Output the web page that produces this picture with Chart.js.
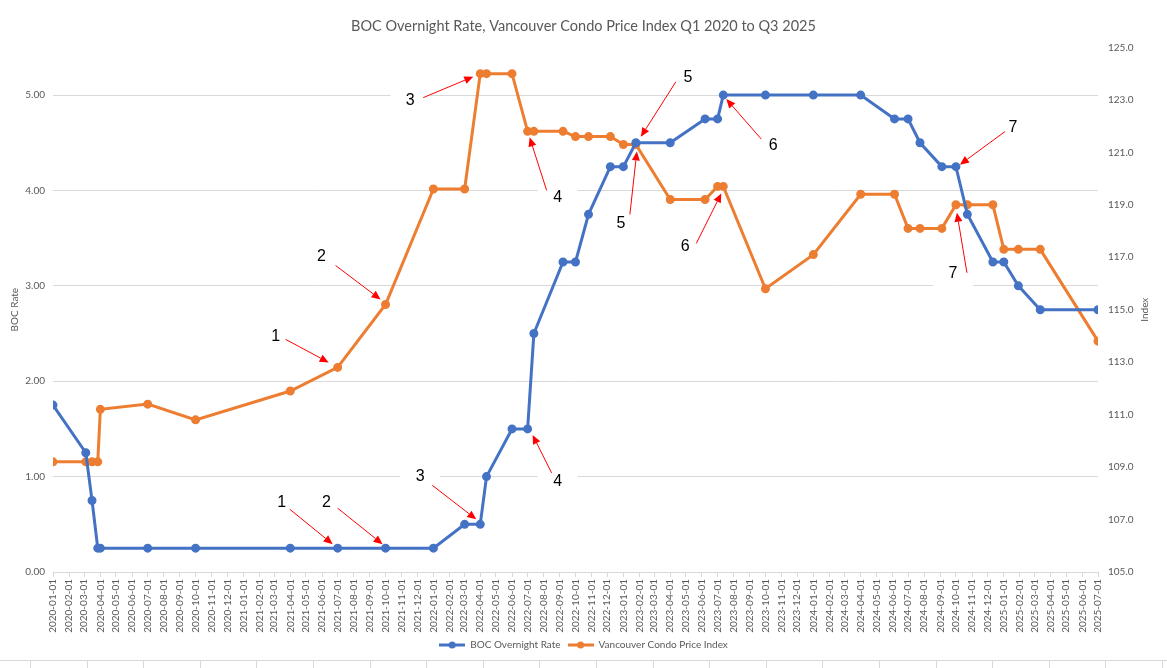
<!DOCTYPE html>
<html>
<head>
<meta charset="utf-8">
<script src="https://cdn.jsdelivr.net/npm/chart.js@4.4.1/dist/chart.umd.min.js"></script>
<style>
  html, body { margin: 0; padding: 0; background: #fff; }
  #wrap { position: relative; width: 1167px; height: 660px; }
  #sheet {
    width: 1167px; height: 7px; border-top: 1px solid #d9d9d9;
    background-image: repeating-linear-gradient(to right, #d9d9d9 0, #d9d9d9 1px, transparent 1px, transparent 56.6px);
    background-position: 30px 0;
  }
</style>
</head>
<body>
<div id="wrap"><canvas id="rateChart"></canvas></div>
<div id="sheet"></div>
<script>
// rate change / index dates shared by both series
const dates = [
  '2020-01-01', '2020-03-04', '2020-03-16', '2020-03-27', '2020-04-01', '2020-07-01', '2020-10-01',
  '2021-04-01', '2021-07-01', '2021-10-01', '2022-01-01', '2022-03-02', '2022-04-01', '2022-04-13',
  '2022-06-01', '2022-07-01', '2022-07-13', '2022-09-07', '2022-10-01', '2022-10-26', '2022-12-07',
  '2023-01-01', '2023-01-25', '2023-04-01', '2023-06-07', '2023-07-01', '2023-07-12', '2023-10-01',
  '2024-01-01', '2024-04-01', '2024-06-05', '2024-07-01', '2024-07-24', '2024-09-04', '2024-10-01',
  '2024-10-23', '2024-12-11', '2025-01-01', '2025-01-29', '2025-03-12', '2025-07-01'
];
const bocRate = [
  1.75, 1.25, 0.75, 0.25, 0.25, 0.25, 0.25,
  0.25, 0.25, 0.25, 0.25, 0.50, 0.50, 1.00,
  1.50, 1.50, 2.50, 3.25, 3.25, 3.75, 4.25,
  4.25, 4.50, 4.50, 4.75, 4.75, 5.00, 5.00,
  5.00, 5.00, 4.75, 4.75, 4.50, 4.25, 4.25,
  3.75, 3.25, 3.25, 3.00, 2.75, 2.75
];
const condoIndex = [
  109.2, 109.2, 109.2, 109.2, 111.2, 111.4, 110.8,
  111.9, 112.8, 115.2, 119.6, 119.6, 124.0, 124.0,
  124.0, 121.8, 121.8, 121.8, 121.6, 121.6, 121.6,
  121.3, 121.3, 119.2, 119.2, 119.7, 119.7, 115.8,
  117.1, 119.4, 119.4, 118.1, 118.1, 118.1, 119.0,
  119.0, 119.0, 117.3, 117.3, 117.3, 113.8
];

// month tick labels 2020-01-01 .. 2025-07-01
const monthLabels = [];
for (let y = 2020; y <= 2025; y++) {
  for (let m = 1; m <= 12; m++) {
    if (y === 2025 && m > 7) break;
    monthLabels.push(y + '-' + String(m).padStart(2, '0') + '-01');
  }
}

// numbered red arrows (offsets in px from the point they mark)
const arrowNotes = [
  { text: '1', series: 1, date: '2021-07-01', label: [-62, -31], tail: [-52, -28], tip: [-9, -5] },
  { text: '2', series: 1, date: '2021-10-01', label: [-64, -48], tail: [-50, -39], tip: [-5, -5] },
  { text: '3', series: 1, date: '2022-04-01', label: [-70, 27], tail: [-57, 24], tip: [-7, 3] },
  { text: '4', series: 1, date: '2022-07-01', label: [30, 66], tail: [19, 59], tip: [2, 6] },
  { text: '5', series: 1, date: '2023-01-25', label: [-15, 79], tail: [-6, 70], tip: [1, 7] },
  { text: '6', series: 1, date: '2023-07-12', label: [-38, 60], tail: [-27, 57], tip: [-2, 7] },
  { text: '7', series: 1, date: '2024-10-01', label: [-3, 69], tail: [11, 68], tip: [1, 8] },
  { text: '1', series: 0, date: '2021-07-01', label: [-56, -46], tail: [-48, -39], tip: [-5, -4] },
  { text: '2', series: 0, date: '2021-10-01', label: [-59, -46], tail: [-48, -40], tip: [-3, -4] },
  { text: '3', series: 0, date: '2022-04-01', label: [-60, -48], tail: [-48, -39], tip: [-4, -5] },
  { text: '4', series: 0, date: '2022-07-01', label: [30, 53], tail: [24, 44], tip: [5, 6] },
  { text: '5', series: 0, date: '2023-01-25', label: [52, -65], tail: [40, -61], tip: [5, -6] },
  { text: '6', series: 0, date: '2023-07-12', label: [50, 51], tail: [38, 44], tip: [3, 4] },
  { text: '7', series: 0, date: '2024-10-01', label: [57, -39], tail: [49, -35], tip: [4, -2] }
];

const BLUE = '#4472C4';
const ORANGE = '#ED7D31';
const GREY = '#595959';
const GRID = '#d9d9d9';

function dayOf(s) {
  const p = s.split('-').map(Number);
  return (Date.UTC(p[0], p[1] - 1, p[2]) - Date.UTC(2020, 0, 1)) / 86400000;
}

function legendIcon(color) {
  const c = document.createElement('canvas');
  c.width = 26; c.height = 8;
  const g = c.getContext('2d');
  g.strokeStyle = color; g.lineWidth = 3;
  g.beginPath(); g.moveTo(0, 4); g.lineTo(26, 4); g.stroke();
  g.fillStyle = color;
  g.beginPath(); g.arc(13, 4, 3.5, 0, Math.PI * 2); g.fill();
  return c;
}

const tickFont = { family: 'Lato, "Noto Sans", sans-serif', size: 10 };

const arrowPlugin = {
  id: 'arrowNotes',
  notePoint(chart, n) {
    const i = dates.indexOf(n.date);
    const x = chart.scales.x.getPixelForValue(dayOf(n.date));
    const y = n.series === 0 ? chart.scales.y.getPixelForValue(bocRate[i])
                             : chart.scales.y1.getPixelForValue(condoIndex[i]);
    return [x, y];
  },
  beforeDatasetsDraw(chart) {
    const ctx = chart.ctx;
    ctx.save();
    ctx.fillStyle = '#fff';
    arrowNotes.forEach(n => {
      const [px, py] = this.notePoint(chart, n);
      ctx.fillRect(px + n.label[0] - 20, py + n.label[1] - 14, 40, 28);
    });
    ctx.restore();
  },
  afterDatasetsDraw(chart) {
    const ctx = chart.ctx;
    ctx.save();
    arrowNotes.forEach(n => {
      const [px, py] = this.notePoint(chart, n);
      const tx = px + n.tail[0], ty = py + n.tail[1];
      const hx = px + n.tip[0], hy = py + n.tip[1];
      const ang = Math.atan2(hy - ty, hx - tx);
      const len = 9, half = 4;
      const bx = hx - len * Math.cos(ang), by = hy - len * Math.sin(ang);
      ctx.strokeStyle = '#ff0000';
      ctx.fillStyle = '#ff0000';
      ctx.lineWidth = 1;
      ctx.beginPath(); ctx.moveTo(tx, ty); ctx.lineTo(bx, by); ctx.stroke();
      ctx.beginPath();
      ctx.moveTo(hx, hy);
      ctx.lineTo(bx + half * Math.sin(ang), by - half * Math.cos(ang));
      ctx.lineTo(bx - half * Math.sin(ang), by + half * Math.cos(ang));
      ctx.closePath(); ctx.fill();

      ctx.fillStyle = '#000';
      ctx.font = '16px "Liberation Sans", Arial, sans-serif';
      ctx.textAlign = 'center';
      ctx.textBaseline = 'middle';
      ctx.fillText(n.text, px + n.label[0], py + n.label[1]);
    });
    ctx.restore();
  },
  afterDraw(chart) {
    // right axis title, reading bottom to top like Excel
    const a = chart.chartArea;
    const ctx = chart.ctx;
    ctx.save();
    ctx.translate(a.right + 47, (a.top + a.bottom) / 2);
    ctx.rotate(-Math.PI / 2);
    ctx.fillStyle = GREY;
    ctx.font = '10px Lato, "Noto Sans", sans-serif';
    ctx.textAlign = 'center';
    ctx.textBaseline = 'middle';
    ctx.fillText('Index', 0, 0);
    ctx.restore();
  }
};

const ctx = document.getElementById('rateChart').getContext('2d');
window.myChart = new Chart(ctx, {
  type: 'line',
  data: {
    datasets: [{
      label: 'BOC Overnight Rate',
      data: dates.map((d, i) => ({ x: dayOf(d), y: bocRate[i] })),
      borderColor: BLUE,
      backgroundColor: BLUE,
      borderWidth: 3,
      pointRadius: 3,
      pointHoverRadius: 3,
      yAxisID: 'y',
      fill: false
    }, {
      label: 'Vancouver Condo Price Index',
      data: dates.map((d, i) => ({ x: dayOf(d), y: condoIndex[i] })),
      borderColor: ORANGE,
      backgroundColor: ORANGE,
      borderWidth: 3,
      pointRadius: 3,
      pointHoverRadius: 3,
      yAxisID: 'y1',
      fill: false
    }]
  },
  options: {
    responsive: true,
    maintainAspectRatio: false,
    animation: false,
    layout: { padding: { left: 0, right: 0, top: 0, bottom: 0 } },
    plugins: {
      title: {
        display: true,
        text: 'BOC Overnight Rate, Vancouver Condo Price Index Q1 2020 to Q3 2025',
        color: GREY,
        font: { family: 'Lato, "Noto Sans", sans-serif', size: 14.5, weight: 'normal' },
        padding: { top: 18, bottom: 12 }
      },
      legend: {
        position: 'bottom',
        labels: {
          color: GREY,
          font: tickFont,
          usePointStyle: true,
          pointStyleWidth: 26,
          padding: 7,
          generateLabels(chart) {
            const items = Chart.defaults.plugins.legend.labels.generateLabels(chart);
            items.forEach(it => {
              it.pointStyle = legendIcon(it.datasetIndex === 0 ? BLUE : ORANGE);
            });
            return items;
          }
        }
      },
      tooltip: { enabled: false }
    },
    scales: {
      x: {
        type: 'linear',
        min: dayOf(monthLabels[0]),
        max: dayOf(monthLabels[monthLabels.length - 1]),
        afterBuildTicks(axis) {
          axis.ticks = monthLabels.map(m => ({ value: dayOf(m) }));
        },
        afterFit(axis) { axis.height = 61; },
        ticks: {
          autoSkip: false,
          minRotation: 90,
          maxRotation: 90,
          color: GREY,
          font: tickFont,
          padding: 2,
          callback: (v, i) => monthLabels[i]
        },
        grid: { drawOnChartArea: false, drawTicks: true, tickLength: 5, color: GRID },
        border: { color: GRID }
      },
      y: {
        position: 'left',
        min: 0,
        max: 5.5,
        afterBuildTicks(axis) {
          axis.ticks = axis.ticks.filter(t => t.value <= 5);
        },
        afterFit(axis) { axis.width = 53; },
        ticks: { stepSize: 1, color: GREY, font: tickFont, padding: 8, callback: v => v.toFixed(2) },
        grid: { color: GRID, drawTicks: false },
        border: { display: false },
        title: { display: true, text: 'BOC Rate', color: GREY, font: tickFont, padding: { top: 9, bottom: 0 } }
      },
      y1: {
        position: 'right',
        min: 105,
        max: 125,
        afterFit(axis) { axis.width = 69; },
        ticks: { stepSize: 2, color: GREY, font: tickFont, padding: 10, callback: v => v.toFixed(1) },
        grid: { display: false, drawOnChartArea: false, drawTicks: false },
        border: { display: false }
      }
    }
  },
  plugins: [arrowPlugin]
});
</script>
</body>
</html>
